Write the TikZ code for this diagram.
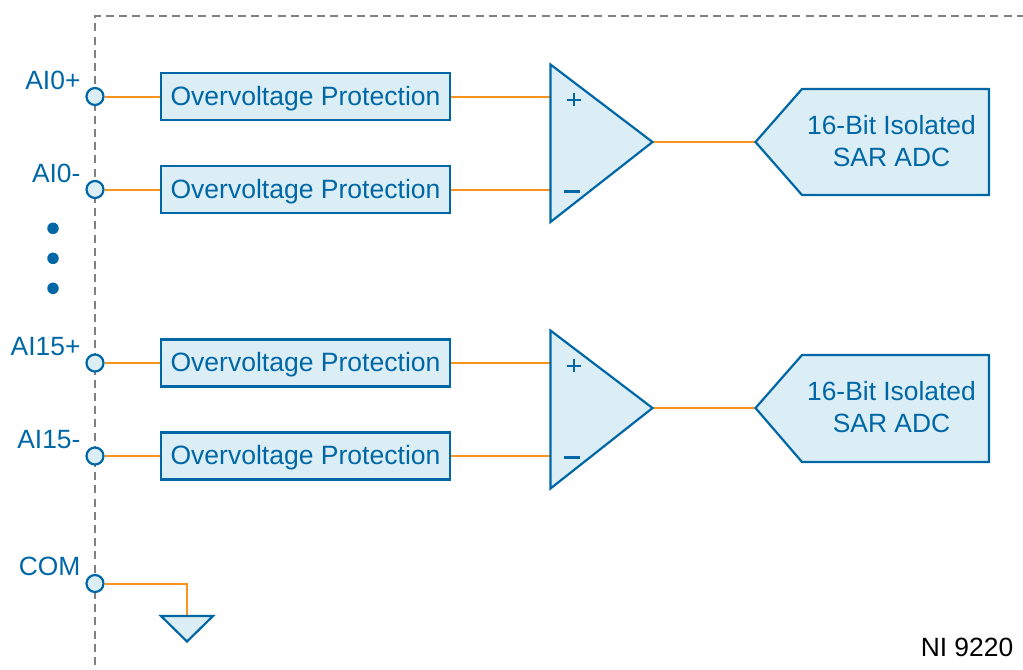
\documentclass[tikz,border=0pt]{standalone}
\usepackage{fontspec}
\setmainfont{Liberation Sans}
\definecolor{niblue}{HTML}{0067A6}
\definecolor{nifill}{HTML}{DCEEF5}
\definecolor{niorange}{HTML}{F7941E}
\definecolor{nigray}{HTML}{808080}
\tikzset{
  wire/.style={draw=niorange,line width=2pt*0.75},
  bluebox/.style={draw=niblue,fill=nifill,line width=2.2pt*0.75,line join=miter},
  protbox/.style={bluebox,rectangle,minimum width=289.5*0.75pt,minimum height=47*0.75pt,inner sep=0pt},
  prottext/.style={text=niblue,font=\fontsize{19.9pt}{24pt}\selectfont,anchor=base,inner sep=0pt},
  term/.style={bluebox,circle,minimum size=17*0.75pt,inner sep=0pt},
  lbl/.style={text=niblue,font=\fontsize{19.8pt}{24pt}\selectfont,anchor=base east,inner sep=0pt},
  adctext/.style={text=niblue,font=\fontsize{19.8pt}{24pt}\selectfont,anchor=base,inner sep=0pt},
  dotm/.style={circle,fill=niblue,minimum size=11.5*0.75pt,inner sep=0pt},
  border/.style={draw=nigray,line width=1.8pt*0.75,dash pattern=on 6pt off 3.9pt}
}
\begin{document}
\begin{tikzpicture}[x=0.75pt,y=-0.75pt]
\useasboundingbox (0,0) rectangle (1023,669);
% dashed enclosure
\coordinate (bb) at (95,665);
\coordinate (bc) at (95,16);
\coordinate (be) at (1023,16);
\draw[border] (bb) -- (bc) -- (be);
% terminals
\node[term] (t1) at (95,96.5) {};
\node[term] (t2) at (95,189.5) {};
\node[term] (t3) at (95,363) {};
\node[term] (t4) at (95,456) {};
\node[term] (t5) at (95,583.5) {};
% labels
\node[lbl] (l1) at (80.7,89) {AI0+};
\node[lbl] (l2) at (80.7,182) {AI0-};
\node[lbl] (l3) at (80.7,355.5) {AI15+};
\node[lbl] (l4) at (80.7,448.5) {AI15-};
\node[lbl] (l5) at (80.7,575) {COM};
% dots
\node[dotm] (d1) at (53,228.3) {};
\node[dotm] (d2) at (53,258.3) {};
\node[dotm] (d3) at (53,288.3) {};
% protection boxes
\node[protbox] (p1) at (305.5,96.5) {};
\node[protbox] (p2) at (305.5,189.5) {};
\node[protbox] (p3) at (305.5,363) {};
\node[protbox] (p4) at (305.5,456) {};
\node[prottext] (x1) at (305.5,105) {Overvoltage Protection};
\node[prottext] (x2) at (305.5,198) {Overvoltage Protection};
\node[prottext] (x3) at (305.5,371.5) {Overvoltage Protection};
\node[prottext] (x4) at (305.5,464.5) {Overvoltage Protection};
% amplifier and ADC anchor points
\coordinate (a1t) at (550.5,64.5);
\coordinate (a1b) at (550.5,222);
\coordinate (a1o) at (652.5,142);
\coordinate (a1p) at (551,96.5);
\coordinate (a1m) at (551,189.5);
\coordinate (a2t) at (550.5,330.5);
\coordinate (a2b) at (550.5,488.5);
\coordinate (a2o) at (652.5,408);
\coordinate (a2p) at (551,363);
\coordinate (a2m) at (551,456);
\coordinate (c1) at (755.5,142);
\coordinate (c2) at (755.5,408);
% wires
\draw[wire] (t1) -- (p1);
\draw[wire] (t2) -- (p2);
\draw[wire] (t3) -- (p3);
\draw[wire] (t4) -- (p4);
\draw[wire] (p1) -- (a1p);
\draw[wire] (p2) -- (a1m);
\draw[wire] (p3) -- (a2p);
\draw[wire] (p4) -- (a2m);
\draw[wire] (a1o) -- (c1);
\draw[wire] (a2o) -- (c2);
% amplifiers
\draw[bluebox] (a1t) -- (a1o) -- (a1b) -- cycle;
\draw[bluebox] (a2t) -- (a2o) -- (a2b) -- cycle;
\foreach \y in {0,266} {
  \draw[niblue,line width=2pt*0.75] (567,99.5+\y) -- (581,99.5+\y) (574,92.5+\y) -- (574,106+\y);
  \draw[niblue,line width=3.8pt*0.75] (564,191.5+\y) -- (580,191.5+\y);
}
% ADCs
\draw[bluebox] (c1) -- (802,89) -- (989,89) -- (989,195) -- (802,195) -- cycle;
\draw[bluebox] (c2) -- (802,355) -- (989,355) -- (989,462) -- (802,462) -- cycle;
\node[adctext] (a1) at (891.5,134.5) {16-Bit Isolated};
\node[adctext] (a2) at (891.5,166.5) {SAR ADC};
\node[adctext] (a3) at (891.5,400.5) {16-Bit Isolated};
\node[adctext] (a4) at (891.5,432.5) {SAR ADC};
% ground
\coordinate (gc) at (187,583.5);
\coordinate (gt) at (187,616);
\draw[wire] (t5) -- (gc) -- (gt);
\draw[bluebox] (161,616) -- (213,616) -- (187,641.5) -- cycle;
% title
\node[lbl,text=black] (nm) at (1013.5,656) {NI 9220};
\end{tikzpicture}
\end{document}
